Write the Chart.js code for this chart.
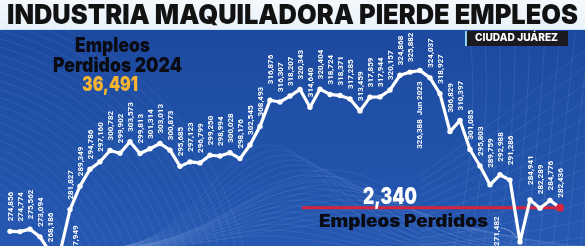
<!DOCTYPE html>
<html>
<head>
<meta charset="utf-8">
<script src="https://cdn.jsdelivr.net/npm/chart.js@4.4.1/dist/chart.umd.min.js"></script>
<style>
  html, body { margin: 0; padding: 0; width: 585px; height: 246px; overflow: hidden; background: #1f4ea5; }
  #wrap { position: relative; width: 585px; height: 246px; overflow: hidden;
          background: linear-gradient(180deg, #1c479c 0%, #2051a8 50%, #2658b2 100%); }
  #hdr { position: absolute; left: 0; top: 0; width: 585px; height: 29px;
         background: linear-gradient(180deg, #f4f8fc 0%, #e9f2fb 100%); border-bottom: 1px solid #cfe3f6; }
  canvas { position: absolute; left: 0; top: 0; }
  .t { position: absolute; white-space: nowrap; line-height: 1; font-family: Inter, "Noto Sans", sans-serif;
       transform-origin: 0 0; }
  #title { left: 7px; top: 1px; font-size: 27.5px; font-weight: 900; color: #121212; }
  #e1 { left: 75px; top: 35.3px; font-size: 20px; font-weight: 900; color: #0b0b14; }
  #e2 { left: 53px; top: 55.3px; font-size: 20px; font-weight: 900; color: #0b0b14; }
  #e3 { left: 82px; top: 75.3px; font-size: 19.5px; font-weight: 900; color: #f6b433; }
  #cjbox { position: absolute; left: 465px; top: 31px; width: 103px; height: 15px; background: #1b1b1f;
           border-left: 2px solid #8fd0f0; box-sizing: border-box; }
  #cj { left: 475px; top: 33px; font-size: 10.5px; font-weight: 800; color: #ffffff; }
  #n2340 { left: 363px; top: 184.8px; font-size: 23px; font-weight: 900; color: #ffffff; }
  #ep { left: 319px; top: 212.7px; font-size: 17px; font-weight: 900; color: #0b0b14; }
</style>
</head>
<body>
<div id="wrap">
  <div id="hdr"></div>
  <canvas id="bg" width="585" height="246"></canvas>
  <canvas id="c" width="585" height="246"></canvas>
  <div class="t" id="title" data-w="571">INDUSTRIA MAQUILADORA PIERDE EMPLEOS</div>
  <div class="t" id="e1" data-w="75">Empleos</div>
  <div class="t" id="e2" data-w="129">Perdidos 2024</div>
  <div class="t" id="e3" data-w="56">36,491</div>
  <div id="cjbox"></div>
  <div class="t" id="cj" data-w="83">CIUDAD JUÁREZ</div>
  <div class="t" id="n2340" data-w="54">2,340</div>
  <div class="t" id="ep" data-w="169">Empleos Perdidos</div>
</div>
<script>
// ---- data ----
const months = [
  'Ene 2020','Feb 2020','Mar 2020','Abr 2020','May 2020','Jun 2020','Jul 2020','Ago 2020','Sep 2020','Oct 2020','Nov 2020','Dic 2020',
  'Ene 2021','Feb 2021','Mar 2021','Abr 2021','May 2021','Jun 2021','Jul 2021','Ago 2021','Sep 2021','Oct 2021','Nov 2021','Dic 2021',
  'Ene 2022','Feb 2022','Mar 2022','Abr 2022','May 2022','Jun 2022','Jul 2022','Ago 2022','Sep 2022','Oct 2022','Nov 2022','Dic 2022',
  'Ene 2023','Feb 2023','Mar 2023','Abr 2023','May 2023','Jun 2023','Jul 2023','Ago 2023','Sep 2023','Oct 2023','Nov 2023','Dic 2023',
  'Ene 2024','Feb 2024','Mar 2024','Abr 2024','May 2024','Jun 2024','Jul 2024','Ago 2024'
];
const empleos = [
  274856, 274774, 275562, 273094, 268186, 267949, 281827, 289349, 294786, 297160,
  300782, 299902, 303573, 299813, 301314, 303013, 300873, 295685, 297123, 296799,
  299250, 298994, 300028, 298176, 302545, 308493, 316876, 316307, 318207, 320343,
  314640, 320404, 318724, 318371, 317285, 313459, 317859, 317944, 320157, 324868,
  325882, 326388, 324037, 318927, 306829, 310397, 301085, 295803, 289759, 292988,
  291286, 271482, 284941, 282289, 284776, 282436
];
const peakMonth = 'Jun 2023';
const Y_MIN = 271450;
const Y_MAX = 347700;

// ---- fit overlay text widths ----
document.querySelectorAll('.t').forEach(el => {
  const w = parseFloat(el.dataset.w);
  const s = w / el.getBoundingClientRect().width;
  el.style.transform = 'scaleX(' + s + ')';
});

// ---- decorative background ----
(function () {
  const g = document.getElementById('bg').getContext('2d');
  g.lineWidth = 0.7;
  g.strokeStyle = 'rgba(185,210,255,0.16)';
  for (let r = 150; r <= 340; r += 8) {
    g.beginPath(); g.arc(-80, 330, r, -Math.PI / 2, 0); g.stroke();
  }
  g.strokeStyle = 'rgba(200,220,255,0.13)';
  for (let j = 0; j < 16; j++) {
    const px = 270 + j * 7, py = 145 + j * 5, w = 85 + j * 5;
    g.beginPath();
    for (let x = 60; x <= 585; x += 4) {
      const y = 252 - (252 - py) * Math.exp(-Math.pow((x - px) / w, 2));
      if (x === 60) g.moveTo(x, y); else g.lineTo(x, y);
    }
    g.stroke();
  }
  for (let j = 0; j < 12; j++) {
    const px = 330 - j * 6, py = 170 + j * 6, w = 120 - j * 3;
    g.beginPath();
    for (let x = 60; x <= 585; x += 4) {
      const y = 252 - (252 - py) * Math.exp(-Math.pow((x - px) / w, 2));
      if (x === 60) g.moveTo(x, y); else g.lineTo(x, y);
    }
    g.stroke();
  }
  g.strokeStyle = 'rgba(200,220,255,0.14)';
  for (let k = 0; k < 10; k++) {
    g.beginPath(); g.moveTo(455 + k * 14, 246);
    g.quadraticCurveTo(480 + k * 12, 140, 470 + k * 15, 32); g.stroke();
  }
  for (let k = 0; k < 12; k++) {
    g.beginPath(); g.moveTo(420, 175 + k * 7);
    g.quadraticCurveTo(500, 120 + k * 12, 585, 50 + k * 17); g.stroke();
  }
})();

// ---- chart ----
const extraGap = { 26: 6, 44: 9, 48: 7, 49: 3, 50: 5, 52: 5, 53: 4 };
const fmt = v => v.toLocaleString('en-US');

const redLine = {
  id: 'redLine',
  beforeDatasetsDraw(chart) {
    const meta = chart.getDatasetMeta(0);
    const last = meta.data[meta.data.length - 1];
    const ctx = chart.ctx;
    ctx.save();
    ctx.strokeStyle = '#d7233b';
    ctx.lineWidth = 3;
    ctx.beginPath(); ctx.moveTo(302, last.y); ctx.lineTo(last.x, last.y); ctx.stroke();
    ctx.restore();
  },
  afterDatasetsDraw(chart) {
    const meta = chart.getDatasetMeta(0);
    const ctx = chart.ctx;
    const n = meta.data.length;
    ctx.save();
    ctx.fillStyle = '#ffffff';
    ctx.font = '700 8px Roboto, "Liberation Sans", sans-serif';
    ctx.textBaseline = 'middle';
    const peakIdx = months.indexOf(peakMonth);
    let minIdx = 31;
    for (let i = 31; i < empleos.length; i++) if (empleos[i] < empleos[minIdx]) minIdx = i;
    for (let i = 0; i < n; i++) {
      const p = meta.data[i];
      const txt = fmt(empleos[i]);
      ctx.save();
      if (i === peakIdx) {
        ctx.translate(p.x, p.y + 11);
        ctx.rotate(-Math.PI / 2);
        ctx.textAlign = 'right';
        ctx.fillText(txt + '  ' + peakMonth, 0, 0);
      } else if (i === minIdx) {
        ctx.translate(p.x - 23, p.y + 4);
        ctx.rotate(-Math.PI / 2);
        ctx.textAlign = 'left';
        ctx.fillText(txt, 0, 0);
        ctx.restore();
        ctx.save();
        ctx.strokeStyle = 'rgba(255,255,255,0.85)';
        ctx.lineWidth = 0.8;
        ctx.setLineDash([1.5, 1]);
        ctx.beginPath(); ctx.moveTo(p.x - 19, p.y - 14);
        ctx.quadraticCurveTo(p.x - 8, p.y - 12, p.x - 3, p.y - 4); ctx.stroke();
      } else if (i === 5) {
        ctx.translate(p.x + 16, p.y + 2);
        ctx.rotate(-Math.PI / 2);
        ctx.textAlign = 'left';
        ctx.fillText(txt, 0, 0);
      } else {
        ctx.translate(p.x + 0.5, p.y - 10 - (extraGap[i] || 0));
        ctx.rotate(-Math.PI / 2);
        ctx.textAlign = 'left';
        ctx.fillText(txt, 0, 0);
      }
      ctx.restore();
    }
    const last = meta.data[n - 1];
    ctx.fillStyle = '#d7233b';
    ctx.beginPath(); ctx.arc(last.x, last.y, 4, 0, Math.PI * 2); ctx.fill();
    ctx.restore();
  }
};

new Chart(document.getElementById('c'), {
  type: 'line',
  data: {
    labels: months,
    datasets: [{
      data: empleos,
      borderColor: '#ffffff',
      borderWidth: 3.2,
      borderJoinStyle: 'round',
      borderCapStyle: 'round',
      tension: 0,
      pointRadius: 2.7,
      pointBackgroundColor: '#ffffff',
      pointBorderWidth: 0,
      clip: false
    }]
  },
  options: {
    responsive: false,
    animation: false,
    events: [],
    layout: { padding: { left: 10, right: 25, top: 0, bottom: 0 } },
    scales: {
      x: { display: false, offset: false },
      y: { display: false, min: Y_MIN, max: Y_MAX }
    },
    plugins: { legend: { display: false }, tooltip: { enabled: false } }
  },
  plugins: [redLine]
});
</script>
</body>
</html>
